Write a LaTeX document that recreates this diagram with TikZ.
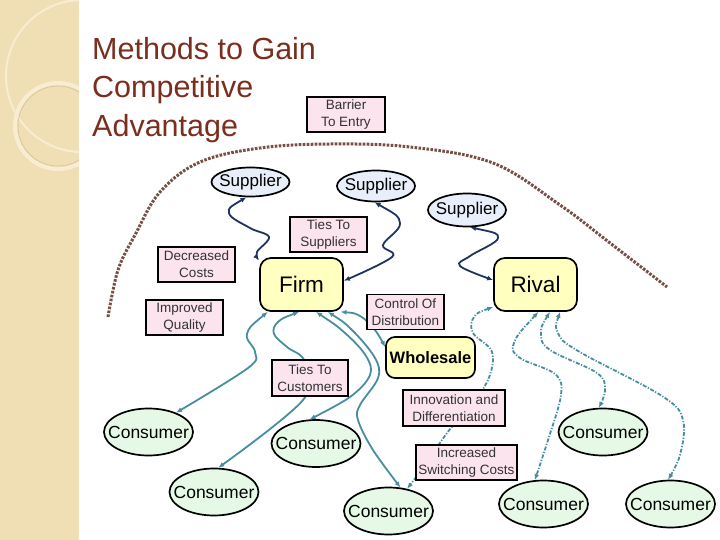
\documentclass[tikz,border=0pt]{standalone}
\usepackage{fontspec}
\setmainfont{Liberation Sans}
\usetikzlibrary{shapes.geometric,arrows.meta}

\definecolor{sidetan}{RGB}{240,222,180}
\definecolor{sidelight}{RGB}{248,236,210}
\definecolor{sideline}{RGB}{214,194,150}
\definecolor{titlebrown}{RGB}{124,46,30}
\definecolor{boxpink}{RGB}{252,228,238}
\definecolor{boxtext}{RGB}{50,50,50}
\definecolor{suppblue}{RGB}{232,238,250}
\definecolor{consgreen}{RGB}{230,248,230}
\definecolor{firmyellow}{RGB}{255,255,192}
\definecolor{navyline}{RGB}{28,52,96}
\definecolor{tealline}{RGB}{72,142,160}
\definecolor{arcbrown}{RGB}{118,80,70}

\pgfdeclarelayer{bg}
\pgfsetlayers{bg,main}

\begin{document}
\begin{tikzpicture}[x=1pt, y=-1pt, >={Latex[length=6pt,width=5pt]},
  pinkbox/.style={draw, line width=1.7pt, fill=boxpink, text=boxtext,
    align=center, inner sep=0pt, minimum width=77pt, minimum height=35pt,
    font=\fontsize{13.5}{17}\selectfont},
  yellowbox/.style={draw, line width=1.7pt, fill=firmyellow, rounded corners=11pt,
    inner sep=0pt, minimum width=83pt, minimum height=53pt,
    font=\fontsize{22.5}{26}\selectfont},
  suppnode/.style={ellipse, draw, line width=1.7pt, fill=suppblue,
    inner xsep=-3.6pt, inner ysep=0pt,
    minimum width=78pt, minimum height=31pt, font=\fontsize{17}{20}\selectfont},
  consnode/.style={ellipse, draw, line width=1.7pt, fill=consgreen,
    inner xsep=-8.9pt, inner ysep=0pt,
    minimum width=89pt, minimum height=47pt, font=\fontsize{17.5}{20}\selectfont},
  navyconn/.style={<->, navyline, line width=1.8pt},
  tealconn/.style={<->, tealline, line width=1.8pt},
  dashconn/.style={<->, tealline, line width=1.8pt,
    dash pattern=on 4pt off 1.6pt on 1.2pt off 1.6pt},
  barrierarc/.style={arcbrown, line width=3pt, dash pattern=on 2.6pt off 1.4pt},
]

  %% ---- Page and side strip ----
  \useasboundingbox (0,0) rectangle (720,540);
  \begin{pgfonlayer}{bg}
    \fill[white] (0,0) rectangle (720,540);
    \fill[sidetan] (0,0) rectangle (79,540);
    \begin{scope}
      \clip (0,0) rectangle (79,540);
      \draw[sidelight, line width=2pt] (82,76) circle (76);
      \draw[sidelight, line width=4pt] (58,126) circle (43);
      \draw[sideline, line width=0.6pt] (58,126) circle (40);
    \end{scope}
  \end{pgfonlayer}

  %% ---- Title ----
  \node[anchor=north west, align=left, inner sep=0pt, text=titlebrown,
    font=\fontsize{30.5}{38.5}\selectfont] (title) at (92,37)
    {Methods to Gain\\Competitive\\Advantage};

  %% ---- Barrier arc ----
  \draw[barrierarc] plot[smooth, tension=0.6] coordinates {(108,317) (118,270)
    (135,235) (160,192) (200,162) (260,148) (330,144) (410,147) (493,163)
    (560,205) (610,243) (667,287)};

  %% ---- Boxes ----
  \node[pinkbox, minimum width=78pt] (barrier) at (346,114.5) {Barrier\\To Entry};
  \node[pinkbox] (tiessup) at (328.5,234.5) {Ties To\\Suppliers};
  \node[pinkbox] (deccost) at (196.5,264.5) {Decreased\\Costs};
  \node[pinkbox] (impqual) at (184.5,317.5) {Improved\\Quality};
  \node[pinkbox] (ctrldist) at (405.5,312) {Control Of\\Distribution};
  \node[pinkbox, minimum width=76pt, minimum height=36pt] (tiescust) at (310,378)
    {Ties To\\Customers};
  \node[pinkbox, minimum width=102pt, minimum height=36pt] (innov) at (454,408)
    {Innovation and\\Differentiation};
  \node[pinkbox, minimum width=101pt] (switch) at (466.5,462.5)
    {Increased\\Switching Costs};

  %% ---- Firm, rival, wholesale ----
  \node[yellowbox] (firm) at (301.5,284.5) {Firm};
  \node[yellowbox] (rival) at (535.5,284.5) {Rival};
  \node[yellowbox, minimum width=89pt, minimum height=41pt, rounded corners=9pt,
    font=\fontsize{16.5}{20}\selectfont\bfseries] (whole) at (430.5,357.5) {Wholesale};

  %% ---- Suppliers ----
  \node[suppnode, minimum height=29pt] (supa) at (250.5,182) {Supplier};
  \node[suppnode] (supb) at (376,186) {Supplier};
  \node[suppnode, minimum height=33pt] (supc) at (467,210) {Supplier};

  %% ---- Consumers ----
  \node[consnode] (cona) at (148.5,432) {Consumer};
  \node[consnode] (conb) at (316,443.5) {Consumer};
  \node[consnode] (conc) at (214,492) {Consumer};
  \node[consnode] (cond) at (388.5,511) {Consumer};
  \node[consnode] (cone) at (603,432) {Consumer};
  \node[consnode] (conf) at (543.5,504) {Consumer};
  \node[consnode] (cong) at (670.5,504) {Consumer};

  %% ---- Connectors (behind the boxes) ----
  \begin{pgfonlayer}{bg}
    % suppliers
    \draw[navyconn] plot[smooth, tension=0.6] coordinates
      {(supa.255) (229,213) (250,228) (269,237) (257,252) (firm.150)};
    \draw[navyconn] plot[smooth, tension=0.6] coordinates
      {(supb.-95) (400,223) (383,245) (392,257) (firm.5)};
    \draw[navyconn] plot[smooth, tension=0.6] coordinates
      {(supc.-80) (498,238) (470,256) (460,266) (rival.174)};
    % firm to consumers
    \draw[tealconn] plot[smooth, tension=0.6] coordinates
      {(firm.-141) (247,334) (255,352) (248,368) (cona.35)};
    \draw[tealconn] plot[smooth, tension=0.6] coordinates
      {(firm.-95) (278,322) (274,334) (287,347) (305,362) (303,400) (conc.80)};
    \draw[tealconn] plot[smooth, tension=0.6] coordinates
      {(firm.-62) (345,333) (366,356) (370,375) (350,397) (conb.105)};
    \draw[tealconn] plot[smooth, tension=0.6] coordinates
      {(firm.-46) (352,330) (375,358) (378,378) (360,405) (358,420) (373,450)
       (cond.63)};
    \draw[tealconn] plot[smooth, tension=0.6] coordinates
      {(firm.-35) (360,316) (375,330) (whole.167)};
    % rival to consumers
    \draw[dashconn] plot[smooth, tension=0.6] coordinates
      {(rival.-152) (474,317) (473,333) (492,352) (488,380) (468,408) (447,433)
       (425,465) (cond.50)};
    \draw[dashconn] plot[smooth, tension=0.6] coordinates
      {(rival.-84) (514,343) (520,358) (555,374) (561,395) (548,440) (conf.110)};
    \draw[dashconn] plot[smooth, tension=0.6] coordinates
      {(rival.-62) (541,333) (550,350) (597,373) (605,390) (cone.100)};
    \draw[dashconn] plot[smooth, tension=0.6] coordinates
      {(rival.-48) (558,333) (578,351) (662,396) (683,420) (680,455) (cong.96)};
  \end{pgfonlayer}

\end{tikzpicture}
\end{document}
